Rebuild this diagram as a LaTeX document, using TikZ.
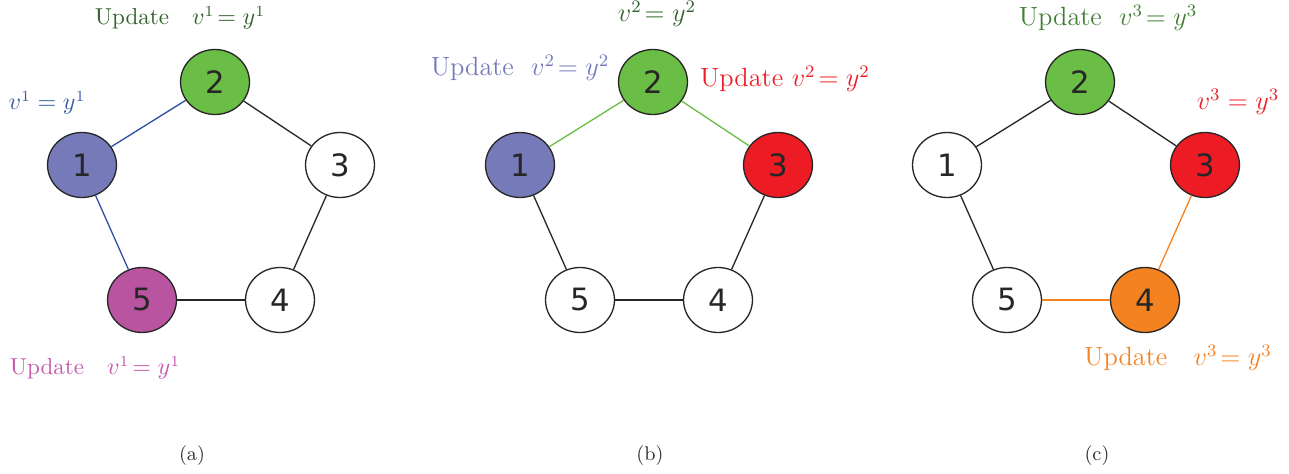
\documentclass[tikz,border=0pt]{standalone}
\usepackage{amsmath}
\usepackage{fontspec}
\usepackage{tikz}
\usetikzlibrary{positioning, shapes.geometric}
\newfontfamily\digitfont{DejaVu Sans}
\definecolor{vgreen}{RGB}{106, 189, 69}
\definecolor{vpurple}{RGB}{118, 122, 185}
\definecolor{vmagenta}{RGB}{184, 84, 160}
\definecolor{vred}{RGB}{237, 28, 36}
\definecolor{vorange}{RGB}{245, 130, 32}
\definecolor{eblue}{RGB}{43, 78, 162}
\definecolor{lblue}{RGB}{59, 91, 168}
\definecolor{lpurple}{RGB}{116, 120, 186}
\definecolor{dkgreen}{RGB}{50, 98, 45}
\definecolor{mdgreen}{RGB}{62, 125, 50}
\definecolor{lmagenta}{RGB}{196, 90, 170}
\tikzset{
  vert/.style={
    draw=black!85, line width=0.6pt, ellipse,
    minimum width=31.4pt, minimum height=29.6pt,
    font=\digitfont\fontsize{14}{16}\selectfont, text=black!85,
    inner sep=0pt, fill=white,
  },
  edge/.style={draw=black!85, line width=0.6pt},
  upd/.style={font=\fontsize{10.5}{12}\selectfont, inner sep=1pt},
  updL/.style={font=\fontsize{12}{14}\selectfont, inner sep=1pt},
  subcap/.style={font=\small, text=black!80},
}
% pentagon of five vertices: prefix, then fill of 1..5
\newcommand{\vpent}[6]{%
  \node[vert, fill=#2] (#1-1) at (82,165) {1};
  \node[vert, fill=#3] (#1-2) at (215,82) {2};
  \node[vert, fill=#4] (#1-3) at (340,165) {3};
  \node[vert, fill=#5] (#1-4) at (280,300) {4};
  \node[vert, fill=#6] (#1-5) at (142,300) {5};
}

\begin{document}
\begin{tikzpicture}[x=0.016cm, y=-0.016cm]
\useasboundingbox (0,0) rectangle (1289,474);

% (a)
\begin{scope}
\vpent{a}{vpurple}{vgreen}{white}{white}{vmagenta}
\draw[edge, draw=eblue] (a-1) -- (a-2);
\draw[edge, draw=eblue] (a-1) -- (a-5);
\draw[edge] (a-2) -- (a-3);
\draw[edge] (a-3) -- (a-4);
\draw[edge] (a-4) -- (a-5);
\node[upd, text=dkgreen] (a-top) at (180,18) {Update\quad $v^1\!= y^1$};
\node[upd, text=lblue] (a-lab1) at (47,103) {$v^1 = y^1$};
\node[upd, text=lmagenta] (a-lab5) at (95,368) {Update\quad $v^1\!= y^1$};
\node[subcap] (a-cap) at (192,456) {(a)};
\end{scope}

% (b)
\begin{scope}[xshift=438*0.016cm]
\vpent{b}{vpurple}{vgreen}{vred}{white}{white}
\draw[edge, draw=vgreen] (b-2) -- (b-1);
\draw[edge, draw=vgreen] (b-2) -- (b-3);
\draw[edge] (b-1) -- (b-5);
\draw[edge] (b-5) -- (b-4);
\draw[edge] (b-4) -- (b-3);
\node[updL, text=dkgreen] (b-top) at (219,14) {$v^2\!= y^2$};
\node[updL, text=lpurple] (b-lab1) at (82,68) {Update\ \ $v^2\!= y^2$};
\node[updL, text=vred] (b-lab3) at (347,79) {Update $v^2\!= y^2$};
\node[subcap] (b-cap) at (212,456) {(b)};
\end{scope}

% (c)
\begin{scope}[xshift=865*0.016cm]
\vpent{c}{white}{vgreen}{vred}{vorange}{white}
\draw[edge] (c-2) -- (c-1);
\draw[edge] (c-2) -- (c-3);
\draw[edge] (c-1) -- (c-5);
\draw[edge, draw=vorange] (c-3) -- (c-4);
\draw[edge, draw=vorange] (c-4) -- (c-5);
\node[updL, text=mdgreen] (c-top) at (243,18) {Update\ \ $v^3\!= y^3$};
\node[updL, text=vred] (c-lab3) at (373,102) {$v^3 = y^3$};
\node[updL, text=vorange] (c-lab4) at (313,358) {Update\quad $v^3\!= y^3$};
\node[subcap] (c-cap) at (232,456) {(c)};
\end{scope}

\end{tikzpicture}
\end{document}
